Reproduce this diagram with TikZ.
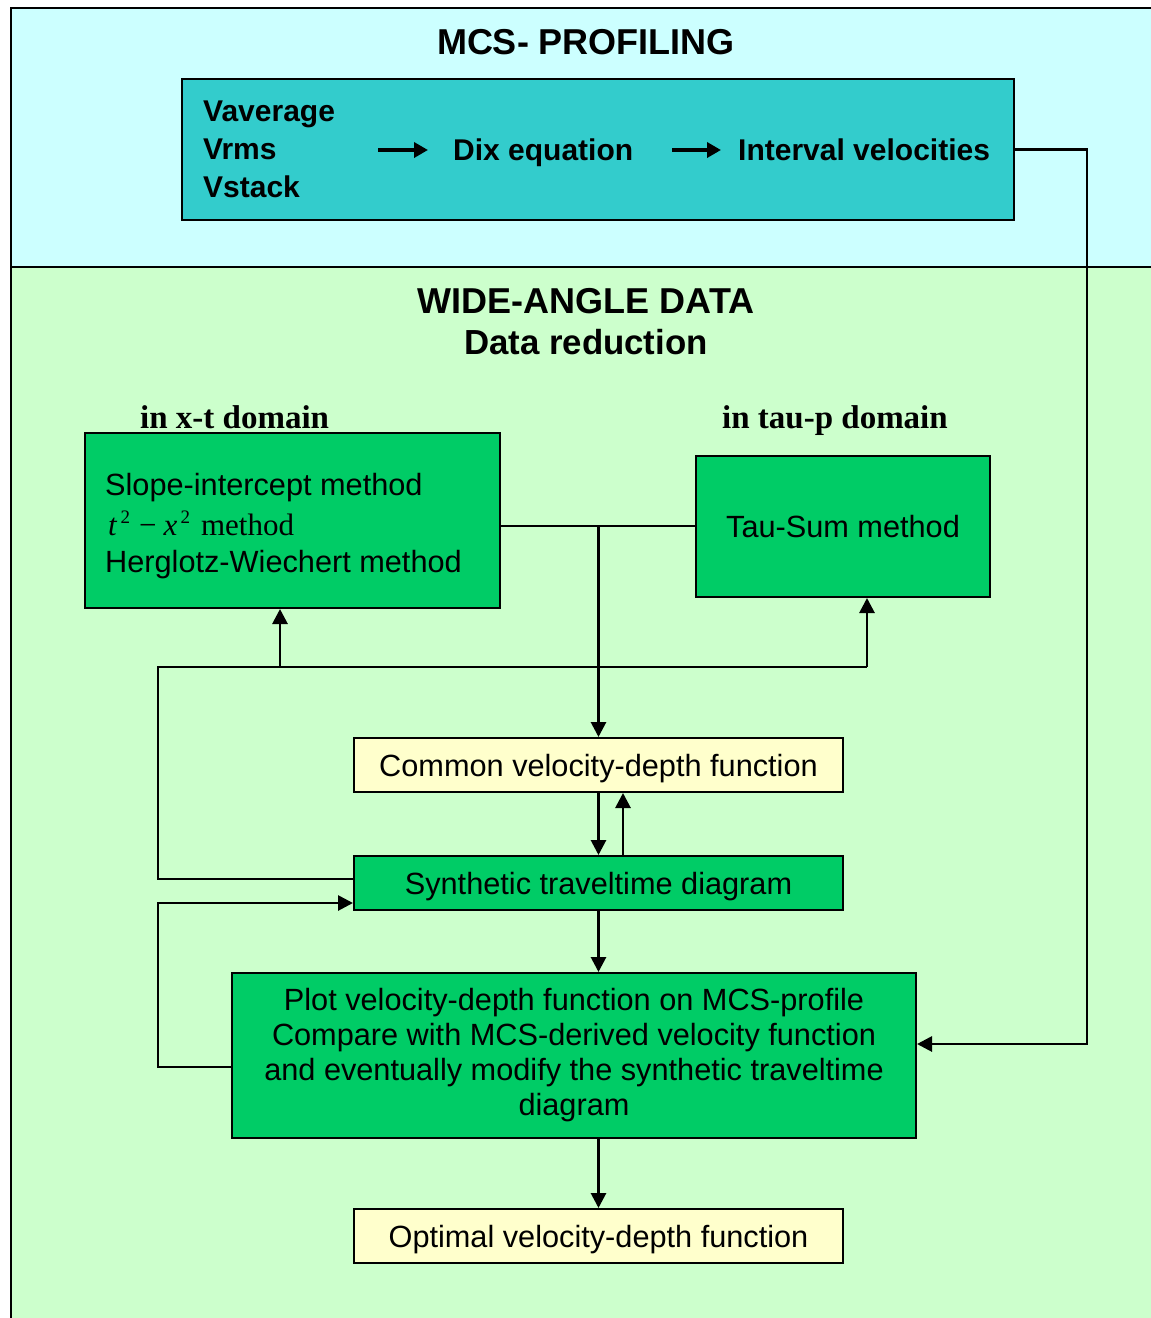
\documentclass[tikz,border=0pt]{standalone}
\usepackage{fontspec}
\setmainfont{Liberation Sans}
\newfontfamily\tnr{Liberation Serif}
\usetikzlibrary{arrows.meta}
\definecolor{bgcyan}{HTML}{CCFFFF}
\definecolor{bggreen}{HTML}{CCFFCC}
\definecolor{boxteal}{HTML}{33CCCC}
\definecolor{boxgreen}{HTML}{00CC66}
\definecolor{boxyellow}{HTML}{FFFFCC}
\tikzset{
  box/.style={draw=black, line width=2pt, inner sep=0pt, align=center,
    font=\fontsize{30.7}{35}\selectfont},
  onebox/.style={box, text height=28pt, text depth=6pt},
  txt/.style={inner sep=0pt, font=\fontsize{30.7}{35}\selectfont},
  btxt/.style={inner sep=0pt, font=\bfseries\fontsize{30}{35}\selectfont},
  title/.style={inner sep=0pt, font=\bfseries\fontsize{36}{43}\selectfont},
  serlabel/.style={inner sep=0pt, font=\tnr\bfseries\fontsize{33}{38}\selectfont},
  conn/.style={line width=2.8pt},
  arr/.style={conn, -{Triangle[length=15pt,width=15pt]}},
  bigarr/.style={line width=4.5pt, -{Triangle[length=14pt,width=15pt]}}
}
\begin{document}
\begin{tikzpicture}[x=1pt,y=-1pt]
\useasboundingbox (0,0) rectangle (1151,1318);
% panels
\fill[bgcyan] (11,8) rectangle (1151,267);
\fill[bggreen] (11,267) rectangle (1151,1318);
\draw[line width=2.5pt] (11,1318) -- (11,8) -- (1151,8);
\draw[line width=2.5pt] (11,267) -- (1151,267);

% MCS panel
\node[title, anchor=base] (t1) at (586,54) {MCS- PROFILING};
\node[box, fill=boxteal, minimum width=832pt, minimum height=141pt] (mcs) at (598,149.5) {};
\node[btxt, anchor=base west] (va) at (203,121) {Vaverage};
\node[btxt, anchor=base west] (vr) at (203,159) {Vrms};
\node[btxt, anchor=base west] (vst) at (203,197) {Vstack};
\node[btxt, anchor=base west] (dix) at (453,160) {Dix equation};
\node[btxt, anchor=base west] (iv) at (738,160) {Interval velocities};
\coordinate (ar1s) at (378,150);
\coordinate (ar1e) at (428,150);
\coordinate (ar2s) at (672,150);
\coordinate (ar2e) at (721,150);
\draw[bigarr] (ar1s) -- (ar1e);
\draw[bigarr] (ar2s) -- (ar2e);

% wide angle panel
\node[title, anchor=base] (t2) at (586,313) {WIDE-ANGLE DATA};
\node[title, anchor=base, font=\bfseries\fontsize{34.8}{40}\selectfont] (t3) at (586,354) {Data reduction};
\node[serlabel, anchor=base west] (lxt) at (140,428) {in x-t domain};
\node[serlabel, anchor=base west] (ltp) at (722,428) {in tau-p domain};

\node[box, fill=boxgreen, minimum width=415pt, minimum height=175pt] (lb) at (292.5,520.5) {};
\node[txt, anchor=base west] (l1) at (105,495) {Slope-intercept method};
\node[inner sep=0pt, anchor=base west, font=\tnr\fontsize{31}{36}\selectfont] (l2) at (108,535)
  {\textit{t}\raisebox{12pt}{\fontsize{19}{19}\selectfont\,2}\hspace{9pt}−\hspace{7pt}\textit{x}\raisebox{12pt}{\fontsize{19}{19}\selectfont\,2}\hspace{11pt}method};
\node[txt, anchor=base west] (l3) at (105,572) {Herglotz-Wiechert method};

\node[onebox, fill=boxgreen, minimum width=294pt, minimum height=141pt] (tau) at (843,526.5) {Tau-Sum method};

\node[onebox, fill=boxyellow, minimum width=489pt, minimum height=54pt] (com) at (598.5,765) {Common velocity-depth function};
\node[onebox, fill=boxgreen, minimum width=489pt, minimum height=54pt] (syn) at (598.5,883) {Synthetic traveltime diagram};
\node[box, fill=boxgreen, minimum width=684pt, minimum height=165pt] (plot) at (574,1055.5)
  {Plot velocity-depth function on MCS-profile\\Compare with MCS-derived velocity function\\and eventually modify the synthetic traveltime\\diagram};
\node[onebox, fill=boxyellow, minimum width=489pt, minimum height=54pt] (opt) at (598.5,1236) {Optimal velocity-depth function};

% connectors
\coordinate (rc) at (1087,1044);
\draw[arr] (mcs.east) -| (rc) -- (rc -| plot.east);

\coordinate (j1) at (598.5,526);
\draw[conn] (j1 -| lb.east) -- (j1 -| tau.west);
\draw[arr] (j1) -- (com.north);

\coordinate (fbL) at (158,667);
\coordinate (a1) at (280,667);
\coordinate (a2) at (867,667);
\draw[conn] ([yshift=4pt]syn.west) -| (fbL) -- (a2);
\draw[arr] (a1) -- (a1 |- lb.south);
\draw[arr] (a2) -- (a2 |- tau.south);

\draw[arr] (com.south) -- (syn.north);
\draw[arr] ([xshift=24.5pt]syn.north) -- ([xshift=24.5pt]com.south);
\draw[arr] (syn.south) -- (syn.south |- plot.north);

\coordinate (lp) at (158,903);
\draw[arr] ([yshift=-11.5pt]plot.west) -| (lp) -- ([yshift=-20pt]syn.west);

\draw[arr] (plot.south -| opt.north) -- (opt.north);
\end{tikzpicture}
\end{document}
